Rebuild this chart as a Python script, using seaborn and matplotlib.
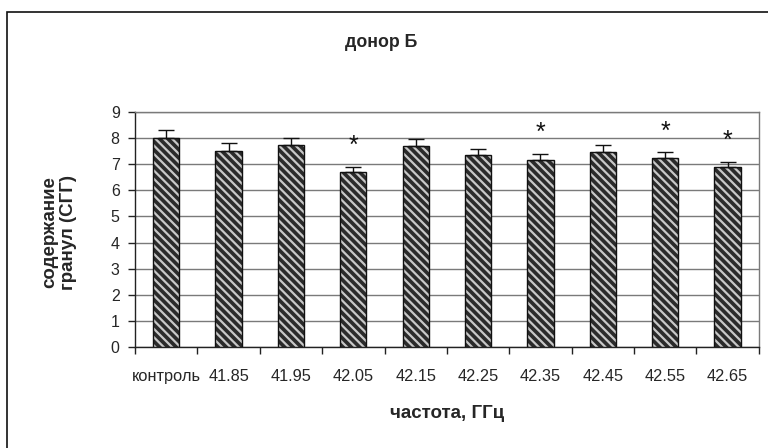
import matplotlib
matplotlib.use("Agg")
import matplotlib.pyplot as plt
import seaborn as sns
import pandas as pd
from matplotlib.patches import Rectangle

categories = ["контроль", "41.85", "41.95", "42.05", "42.15", "42.25",
              "42.35", "42.45", "42.55", "42.65"]
values = [8.0, 7.52, 7.73, 6.70, 7.68, 7.35, 7.18, 7.45, 7.25, 6.88]
errors = [0.32, 0.28, 0.27, 0.20, 0.27, 0.22, 0.23, 0.28, 0.20, 0.20]
significant = [False, False, False, True, False, False, True, False, True, True]

df = pd.DataFrame({"freq": categories, "val": values})

sns.set_style("white")
plt.rcParams["font.family"] = ["Liberation Sans", "DejaVu Sans"]
plt.rcParams["hatch.linewidth"] = 1.6

fig = plt.figure(figsize=(7.68, 4.48), dpi=100)
ax = fig.add_axes([0.1758, 0.2254, 0.8122, 0.5246])

sns.barplot(data=df, x="freq", y="val", color="#2b2b2b", width=0.42,
            saturation=1, errorbar=None, ax=ax, zorder=3)

# hatch drawn in light grey, outline drawn separately in black
for p in ax.patches:
    p.set_hatch("\\\\\\\\")
    p.set_edgecolor("#c8c8c8")
    p.set_linewidth(0)
    ax.add_patch(Rectangle((p.get_x(), p.get_y()), p.get_width(), p.get_height(),
                           fill=False, edgecolor="#111111", linewidth=1.0, zorder=4))

xs = range(len(categories))
ax.errorbar(xs, values, yerr=[[0] * len(values), errors], fmt="none",
            ecolor="#111111", elinewidth=1.0, capsize=5.5, capthick=1.0, zorder=5)

for i, (v, e, s) in enumerate(zip(values, errors, significant)):
    if s:
        ax.text(i, v + e + 0.8, "*", ha="center", va="center",
                fontsize=18, color="#111111")

ax.set_ylim(0, 9)
ax.set_yticks(range(0, 10))
ax.set_xlim(-0.5, len(categories) - 0.5)
ax.yaxis.grid(True, color="#7a7a7a", linewidth=1.0, zorder=0)
ax.xaxis.grid(False)

ax.set_xticks([i - 0.5 for i in range(len(categories) + 1)], minor=True)
ax.tick_params(axis="x", which="minor", length=5, width=1, color="#222222",
               direction="out", bottom=True)
ax.tick_params(axis="x", which="major", length=0, pad=16, labelsize=11.8)
ax.tick_params(axis="y", length=5, width=1, color="#222222", direction="out",
               left=True, labelsize=11.5, pad=6)
ax.set_xticklabels(categories)

for side in ["top", "right"]:
    ax.spines[side].set_color("#7a7a7a")
    ax.spines[side].set_linewidth(1.0)
for side in ["left", "bottom"]:
    ax.spines[side].set_color("#222222")
    ax.spines[side].set_linewidth(1.0)

ax.set_xlabel("")
ax.set_ylabel("")
fig.text(447 / 768, 1 - 418 / 448, "частота, ГГц", ha="center", va="baseline",
         fontsize=13.5, fontweight="bold")
fig.text(59 / 768, 1 - 232 / 448, "содержание\nгранул (СГГ)", rotation=90,
         ha="center", va="center", fontsize=13.5, fontweight="bold",
         linespacing=1.15)
fig.text(381 / 768, 1 - 47 / 448, "донор Б",
         ha="center", va="baseline", fontsize=12.8, fontweight="bold")

fig.add_artist(Rectangle((7 / 768, -0.05), 2, 1 - 12 / 448 + 0.05,
                         transform=fig.transFigure, fill=False,
                         edgecolor="#111111", linewidth=1.2))

fig.savefig("out.png", dpi=100)
